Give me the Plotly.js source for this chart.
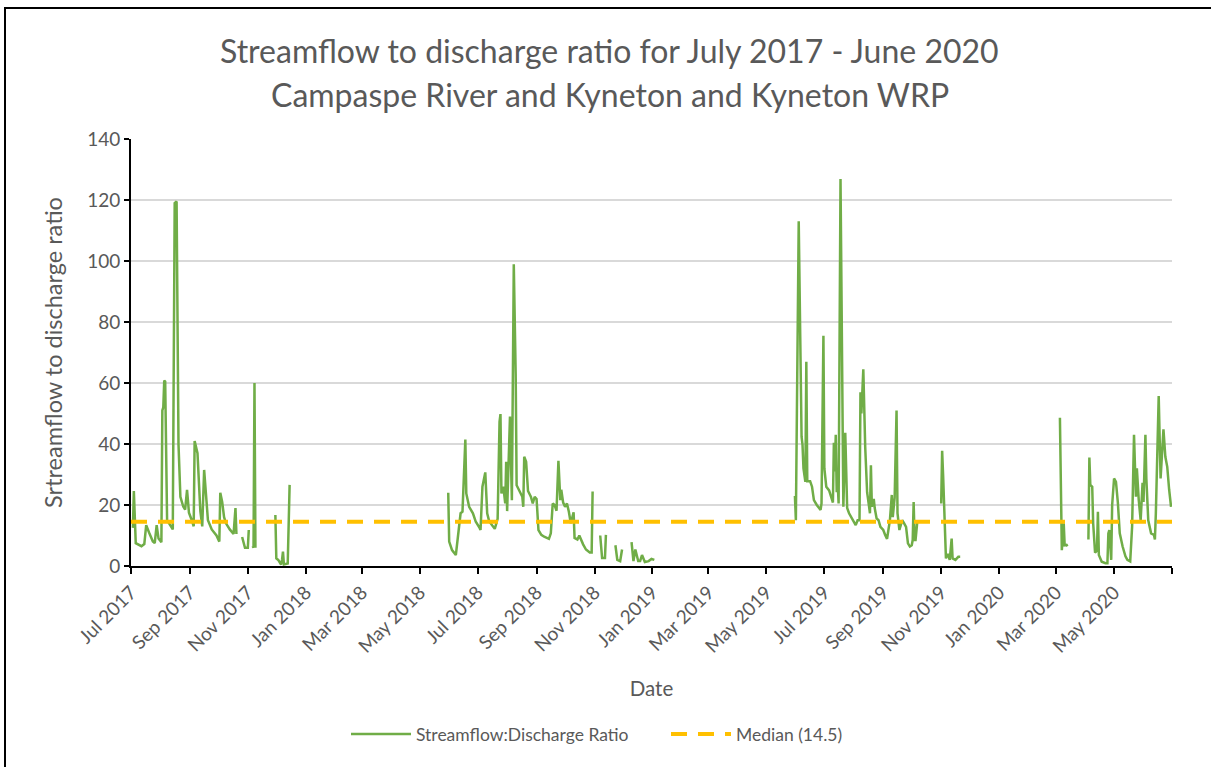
<!DOCTYPE html>
<html>
<head>
<meta charset="utf-8">
<script src="https://cdn.plot.ly/plotly-3.0.1.min.js"></script>
<style>
  html, body { margin: 0; padding: 0; overflow: hidden; background: #ffffff; }
  #chart { width: 1211px; height: 767px; }
  #frame {
    position: absolute; left: 4px; top: 7px; width: 1300px; height: 900px;
    border: 2px solid #000000; pointer-events: none;
  }
</style>
</head>
<body>
<div id="chart"></div>
<div id="frame"></div>
<script>
// Daily streamflow:discharge ratio (null = no data)
const flowDates = [
  "2017-07-03","2017-07-04","2017-07-06","2017-07-09","2017-07-12","2017-07-15","2017-07-17","2017-07-20",
  "2017-07-24","2017-07-26","2017-07-28","2017-07-30","2017-08-02","2017-08-03","2017-08-04","2017-08-05",
  "2017-08-06","2017-08-08","2017-08-11","2017-08-14","2017-08-16","2017-08-18","2017-08-20","2017-08-22",
  "2017-08-25","2017-08-27","2017-08-29","2017-08-31","2017-09-03","2017-09-05","2017-09-06","2017-09-08",
  "2017-09-09","2017-09-12","2017-09-14","2017-09-16","2017-09-20","2017-09-24","2017-09-29","2017-10-02",
  "2017-10-03","2017-10-05","2017-10-07","2017-10-09","2017-10-13","2017-10-17","2017-10-19","2017-10-20",
  "2017-10-23",
  "2017-10-26","2017-10-29","2017-11-01","2017-11-02",
  "2017-11-04",
  "2017-11-06","2017-11-07","2017-11-08","2017-11-09",
  "2017-11-20",
  "2017-11-30","2017-12-01","2017-12-03","2017-12-06","2017-12-07","2017-12-08","2017-12-09","2017-12-13",
  "2017-12-15",
  "2018-03-01",
  "2018-05-31","2018-06-01","2018-06-04","2018-06-08","2018-06-11","2018-06-13","2018-06-15","2018-06-18",
  "2018-06-19","2018-06-22","2018-06-26","2018-06-29","2018-07-03","2018-07-04","2018-07-06","2018-07-09",
  "2018-07-11","2018-07-13","2018-07-17","2018-07-19","2018-07-22","2018-07-24","2018-07-25","2018-07-26",
  "2018-07-28","2018-07-30","2018-07-31","2018-08-01","2018-08-04","2018-08-05","2018-08-06","2018-08-08",
  "2018-08-10","2018-08-11","2018-08-14","2018-08-17","2018-08-18","2018-08-19","2018-08-21","2018-08-23",
  "2018-08-26","2018-08-28","2018-08-30","2018-09-01","2018-09-03","2018-09-06","2018-09-09","2018-09-14",
  "2018-09-16","2018-09-18","2018-09-20","2018-09-22","2018-09-24","2018-09-26","2018-09-27","2018-09-29",
  "2018-10-01","2018-10-03","2018-10-05","2018-10-07","2018-10-10","2018-10-11","2018-10-14","2018-10-16",
  "2018-10-20","2018-10-23","2018-10-27","2018-10-29","2018-10-30",
  "2018-11-03",
  "2018-11-07","2018-11-09","2018-11-12","2018-11-13",
  "2018-11-18",
  "2018-11-23","2018-11-25","2018-11-28","2018-11-30",
  "2018-12-05",
  "2018-12-10","2018-12-12","2018-12-14","2018-12-17","2018-12-19","2018-12-21","2018-12-24","2018-12-28",
  "2018-12-31","2019-01-03",
  "2019-03-01",
  "2019-05-31","2019-06-01","2019-06-04","2019-06-06","2019-06-07","2019-06-08","2019-06-09","2019-06-11",
  "2019-06-12","2019-06-13","2019-06-16","2019-06-18","2019-06-20","2019-06-23","2019-06-27","2019-06-28",
  "2019-06-30","2019-07-01","2019-07-03","2019-07-06","2019-07-08","2019-07-10","2019-07-11","2019-07-12",
  "2019-07-13","2019-07-14","2019-07-15","2019-07-16","2019-07-18","2019-07-20","2019-07-21","2019-07-23",
  "2019-07-25","2019-07-27","2019-07-30","2019-08-01","2019-08-03","2019-08-05","2019-08-07","2019-08-08",
  "2019-08-09","2019-08-11","2019-08-13","2019-08-15","2019-08-17","2019-08-18","2019-08-19","2019-08-20",
  "2019-08-22","2019-08-23","2019-08-25","2019-08-27","2019-08-29","2019-09-01","2019-09-03","2019-09-05",
  "2019-09-08","2019-09-10","2019-09-11","2019-09-13","2019-09-15","2019-09-16","2019-09-18","2019-09-21",
  "2019-09-23","2019-09-25","2019-09-27","2019-09-29","2019-10-01","2019-10-02","2019-10-03","2019-10-04",
  "2019-10-05","2019-10-07",
  "2019-10-20",
  "2019-11-01","2019-11-02","2019-11-03","2019-11-05","2019-11-06","2019-11-08","2019-11-10","2019-11-12",
  "2019-11-13","2019-11-16","2019-11-19","2019-11-21",
  "2020-02-01",
  "2020-03-05","2020-03-07","2020-03-09","2020-03-10","2020-03-12","2020-03-13",
  "2020-03-25",
  "2020-04-04","2020-04-05","2020-04-06","2020-04-08","2020-04-09","2020-04-11","2020-04-13","2020-04-14",
  "2020-04-15","2020-04-18","2020-04-22","2020-04-24","2020-04-25","2020-04-26","2020-04-28","2020-04-29",
  "2020-05-01","2020-05-03","2020-05-05","2020-05-07","2020-05-10","2020-05-13","2020-05-15","2020-05-18",
  "2020-05-20","2020-05-22","2020-05-24","2020-05-25","2020-05-27","2020-05-29","2020-05-31","2020-06-01",
  "2020-06-03","2020-06-04","2020-06-06","2020-06-09","2020-06-12","2020-06-13","2020-06-14","2020-06-17",
  "2020-06-19","2020-06-22","2020-06-24","2020-06-26","2020-06-28","2020-06-30"
];

const flowRatio = [
  12.5, 24.6, 7.5, 7, 6.5, 7.2, 13.4, 11,
  8, 7.5, 13.4, 9, 7.8, 51, 52, 60.8,
  60.5, 15, 13.5, 12, 119, 119.5, 40, 22.7,
  19.5, 18.5, 25, 17.5, 15, 13, 41, 37.9,
  37, 18, 13, 31.5, 15, 12, 10, 8,
  24, 21, 16, 14, 12, 10.5, 19, 10.5,
  null,
  9.5, 6, 6, 11.8,
  null,
  6.5, 6, 60, 6,
  null,
  16.7, 2.5, 2, 0.5, 2, 4.7, 0.5, 0.8,
  26.6,
  null,
  24, 8, 5.2, 3.6, 11.8, 17.3, 17.8, 41.5,
  23.8, 19.4, 17.3, 14.5, 12.5, 11.8, 26, 30.7,
  17.3, 14.8, 13, 12.2, 15.5, 47.3, 49.8, 23.8,
  26, 20.5, 34.2, 18, 49, 30, 21.6, 98.9,
  63, 26.5, 24.3, 22.7, 19.4, 35.8, 34.2, 24.6,
  22.7, 20.5, 22.7, 22, 11.8, 10.2, 9.6, 8.9,
  10.7, 20.5, 20, 18.1, 34.5, 21.6, 25, 20.8,
  19.4, 20.5, 17.8, 14, 17.6, 9.2, 8.7, 10,
  7.1, 5.4, 4.4, 4.4, 24.4,
  null,
  10, 2.6, 2.6, 10.2,
  null,
  6.8, 2, 1.6, 5.4,
  null,
  7.8, 1.6, 5.4, 1.6, 1.6, 3.6, 1.3, 1.6,
  2.3, 2,
  null,
  23, 15, 113, 72, 42.4, 39.7, 32, 27.6,
  67, 27.8, 27.8, 26, 21.6, 20, 18.4, 20.5,
  75.5, 32, 26, 24.8, 22.4, 20.8, 40.4, 31,
  43, 24.2, 27.6, 20.5, 126.9, 46.8, 19.4, 43.7,
  19, 17.3, 15.6, 14.5, 13.4, 15, 15, 57,
  50, 64.5, 39, 24.2, 20.5, 17.3, 33, 19.4,
  22, 19, 15.6, 15, 12.8, 11.8, 10.2, 8.9,
  15, 23.3, 16, 22.4, 51, 17.3, 11.8, 15,
  14, 12.8, 7.4, 6.4, 6.8, 8.5, 21, 8.5,
  8.5, 15,
  null,
  20.5, 37.8, 30, 5.8, 2.5, 4, 2, 9,
  2.5, 2, 3, 3,
  null,
  48.6, 5.2, 14, 6.8, 6.9, 6.5,
  null,
  8.7, 35.6, 26.6, 26, 14, 4.4, 5, 17.8,
  3.6, 1.4, 0.9, 0.9, 10.7, 11.8, 2, 20,
  28.7, 27.6, 20.8, 10.7, 6.4, 3.2, 2, 1.5,
  12.9, 43, 22.7, 32, 21.6, 15, 27.3, 21,
  43, 28.7, 15, 10.7, 10.2, 8.7, 17.3, 55.7,
  28.7, 44.8, 35.8, 32.5, 25, 19.4
];

const medianRatio = 14.5;
const periodDates = ["2017-07-01", "2020-07-01"];

const tickDates = [
  "2017-07-01","2017-09-01","2017-11-01","2018-01-01","2018-03-01","2018-05-01","2018-07-01",
  "2018-09-01","2018-11-01","2019-01-01","2019-03-01","2019-05-01","2019-07-01","2019-09-01",
  "2019-11-01","2020-01-01","2020-03-01","2020-05-01","2020-07-01"
];
const tickLabels = [
  "Jul 2017","Sep 2017","Nov 2017","Jan 2018","Mar 2018","May 2018","Jul 2018",
  "Sep 2018","Nov 2018","Jan 2019","Mar 2019","May 2019","Jul 2019","Sep 2019",
  "Nov 2019","Jan 2020","Mar 2020","May 2020",""
];

const textColor = "#595959";
const fontFamily = "Lato, 'Open Sans', sans-serif";

const data = [
  {
    type: "scatter",
    mode: "lines",
    name: "Streamflow:Discharge Ratio",
    x: flowDates,
    y: flowRatio,
    connectgaps: false,
    line: { color: "#70AD47", width: 2.5 },
    hoverinfo: "x+y",
  },
  {
    type: "scatter",
    mode: "lines",
    name: "Median (" + medianRatio + ")",
    x: periodDates,
    y: [medianRatio, medianRatio],
    line: { color: "#FFC000", width: 4, dash: "16px,11px" },
    hoverinfo: "y",
  },
];

const layout = {
  width: 1211,
  height: 767,
  paper_bgcolor: "#ffffff",
  plot_bgcolor: "#ffffff",
  font: { family: fontFamily, color: textColor, size: 19 },
  margin: { l: 131, r: 39, t: 139, b: 201 },
  showlegend: true,
  legend: {
    orientation: "h",
    xref: "container",
    yref: "container",
    x: 346 / 1211,
    y: (767 - 734) / 767,
    xanchor: "left",
    yanchor: "middle",
    itemwidth: 60,
    entrywidth: 245,
    font: { size: 17.5, color: textColor },
  },
  xaxis: {
    type: "date",
    range: periodDates,
    tickmode: "array",
    tickvals: tickDates,
    ticktext: tickLabels,
    tickangle: -45,
    ticks: "outside",
    ticklen: 6,
    tickwidth: 2,
    tickcolor: "#000000",
    showline: true,
    linecolor: "#000000",
    linewidth: 2,
    showgrid: false,
    zeroline: false,
    tickfont: { size: 19, color: textColor },
    title: { text: "Date", font: { size: 20.5, color: textColor }, standoff: 26 },
  },
  yaxis: {
    range: [0, 140],
    dtick: 20,
    ticks: "outside",
    ticklen: 5,
    tickwidth: 2,
    tickcolor: "#000000",
    showline: true,
    linecolor: "#000000",
    linewidth: 2,
    gridcolor: "#d9d9d9",
    gridwidth: 2,
    zeroline: false,
    tickfont: { size: 19, color: textColor },
    title: { text: "Srtreamflow to discharge ratio", font: { size: 23.5, color: textColor }, standoff: 18 },
  },
  annotations: [
    {
      text: "Streamflow to discharge ratio for July 2017 - June 2020",
      xref: "paper", yref: "paper",
      x: 0.46, y: 1 + (139 - 50) / 427,
      xanchor: "center", yanchor: "middle",
      showarrow: false,
      font: { size: 32, color: textColor },
    },
    {
      text: "Campaspe River and Kyneton and Kyneton WRP",
      xref: "paper", yref: "paper",
      x: 0.46, y: 1 + (139 - 95) / 427,
      xanchor: "center", yanchor: "middle",
      showarrow: false,
      font: { size: 32, color: textColor },
    },
  ],
};

Plotly.newPlot("chart", data, layout, { displayModeBar: false, staticPlot: true });
</script>
</body>
</html>
